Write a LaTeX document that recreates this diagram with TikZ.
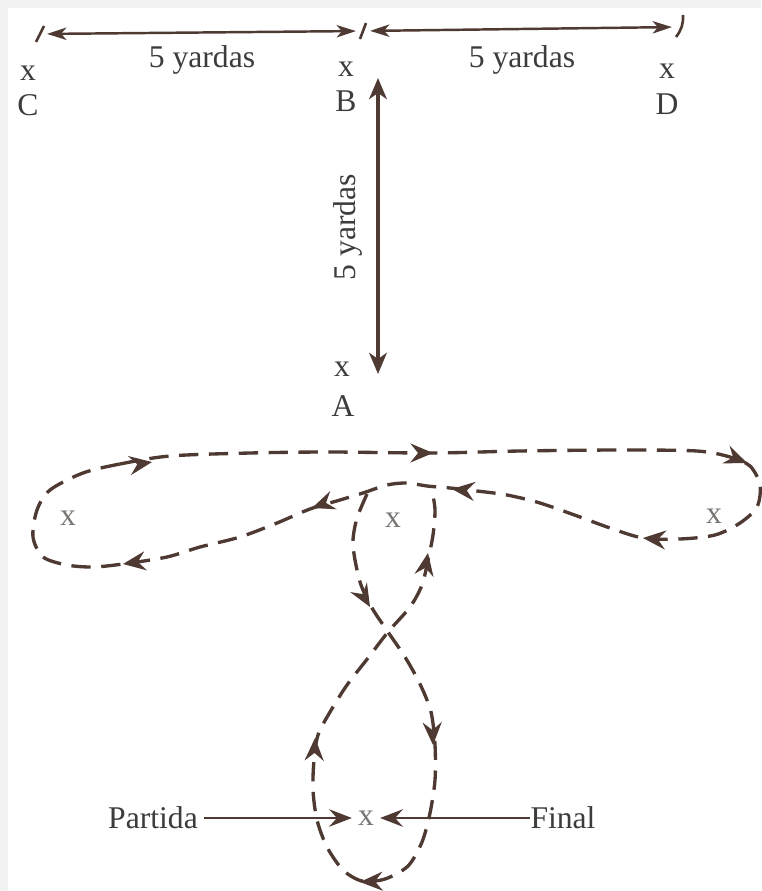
\documentclass[tikz,border=0pt]{standalone}
\usepackage{fontspec}
\setmainfont{Liberation Serif}
\usetikzlibrary{arrows.meta, positioning}
\definecolor{inkbrown}{RGB}{78,58,50}
\definecolor{labelgray}{RGB}{62,60,58}
\definecolor{markgray}{RGB}{120,117,115}
\definecolor{edgegray}{RGB}{242,242,242}

\begin{document}
\begin{tikzpicture}[x=0.02cm, y=-0.02cm,
  every node/.style={font=\fontsize{18}{21}\selectfont, text=labelgray},
  dimline/.style={inkbrown, line width=1.4pt, shorten <=4pt, shorten >=4pt,
    {Stealth[length=11pt,width=7pt,inset=3pt]}-{Stealth[length=11pt,width=7pt,inset=3pt]}},
  vline/.style={inkbrown, line width=2.1pt,
    {Stealth[length=12pt,width=10pt,inset=3.5pt]}-{Stealth[length=12pt,width=10pt,inset=3.5pt]}},
  tickline/.style={inkbrown, line width=1.5pt},
  route/.style={inkbrown, line width=1.9pt, dash pattern=on 11pt off 6pt},
  pointer/.style={inkbrown, line width=1pt, -{Stealth[length=13pt,width=10pt,inset=4.5pt]}},
  flow/.pic={\fill[inkbrown] (0,0) -- (-13pt,5.5pt) -- (-8.5pt,0) -- (-13pt,-5.5pt) -- cycle;}]
  \useasboundingbox (0,0) rectangle (761,891);
  \fill[edgegray] (0,0) rectangle (761,891);
  \fill[white] (8,8) rectangle (761,891);

  % spots
  \node (xc) at (28,73) {x};
  \node (lc) at (28,105) {C};
  \node (xb) at (346,69) {x};
  \node (lb) at (346,101) {B};
  \node (xd) at (667,71) {x};
  \node (ld) at (667,104) {D};
  \node (xa) at (342,369) {x};
  \node (la) at (343,406) {A};

  % distances
  \coordinate (tc) at (40,34);
  \coordinate (tb) at (363,31);
  \coordinate (td) at (679,27);
  \draw[tickline] (36,42) -- (44,26);
  \draw[tickline] (360,39) -- (366,23);
  \draw[tickline] (676,37) to[bend right=20] (683,15);
  \draw[dimline] (tc) -- (tb);
  \draw[dimline] (tb) -- (td);
  \node at (202,60) {5 yardas};
  \node at (522,60) {5 yardas};
  \coordinate (vtop) at (378,78);
  \coordinate (vbot) at (378,374);
  \draw[vline] (vtop) -- (vbot);
  \node[rotate=90] at (348,227) {5 yardas};

  % route
  \node[text=markgray] (xl) at (68,518) {x};
  \node[text=markgray] (xm) at (393,520) {x};
  \node[text=markgray] (xr) at (714,516) {x};
  \node[text=markgray] (xs) at (366,818) {x};
  \draw[route] plot[smooth cycle] coordinates {
    (83,473) (120,464) (170,456) (250,453) (330,452) (433,453) (520,451)
    (620,450) (697,451) (730,457) (750,466) (760,485) (757,507) (740,523)
    (715,535) (680,539) (643,538) (610,528) (580,517) (540,503) (507,495)
    (477,491) (450,488) (427,486) (407,483) (387,485) (363,493) (340,500)
    (310,509) (277,523) (240,537) (200,547) (167,557) (123,564) (93,567)
    (67,565) (43,557) (33,537) (37,510) (50,490)};
  \draw[route] plot[smooth] coordinates {
    (367,494) (357,518) (353,540) (355,560) (361,585) (372,608) (388,632)
    (405,657) (420,684) (431,712) (435,745) (435,780) (430,813) (422,842)
    (408,866) (385,879) (362,881) (343,870) (327,847) (317,820) (313,790)
    (314,760) (318,735) (330,712) (347,685) (368,658) (388,632) (410,607)
    (422,585) (428,560) (433,535) (435,510) (432,490)};
  \pic[rotate=9] at (152,462) {flow};
  \pic at (433,453) {flow};
  \pic[rotate=-22] at (747,463) {flow};
  \pic[rotate=175] at (643,538) {flow};
  \pic[rotate=174] at (452,489) {flow};
  \pic[rotate=200] at (312,508) {flow};
  \pic[rotate=188] at (123,564) {flow};
  \pic[rotate=80] at (428,553) {flow};
  \pic[rotate=-60] at (370,607) {flow};
  \pic[rotate=-88] at (433,745) {flow};
  \pic[rotate=182] at (360,882) {flow};
  \pic[rotate=88] at (315,738) {flow};

  % start and end
  \node (partida) at (153,818) {Partida};
  \node[inner sep=0pt] (final) at (563,818) {Final};
  \draw[pointer] (partida) -- (xs);
  \draw[pointer] (final) -- (xs);
\end{tikzpicture}
\end{document}
